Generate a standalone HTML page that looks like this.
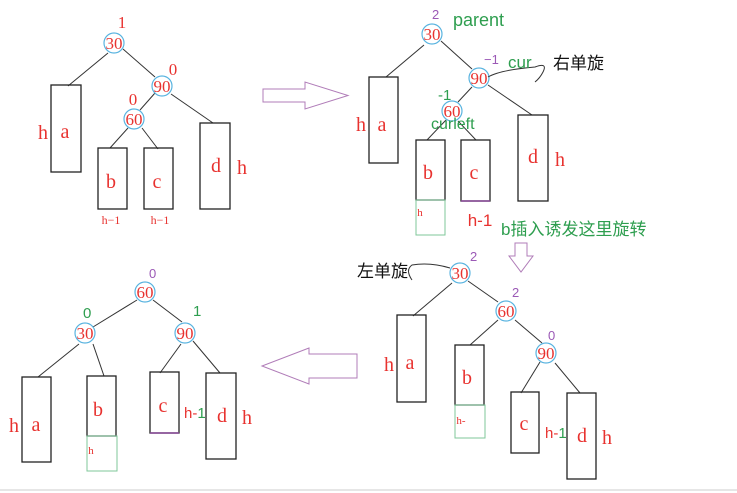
<!DOCTYPE html>
<html><head><meta charset="utf-8"><style>
html,body{margin:0;padding:0;background:#fff}
svg{display:block}
.r{fill:#e8322f;font-family:"Liberation Serif",serif}
.g{fill:#2e9e4f;font-family:"Liberation Sans",sans-serif}
.p{fill:#9b59b6;font-family:"Liberation Sans",sans-serif}
.k{fill:#111;font-family:"Liberation Sans","Noto Sans CJK SC",sans-serif}
line,path.l{stroke:#333;stroke-width:1}
rect.b{fill:none;stroke:#222;stroke-width:1.3}
circle{fill:none;stroke:#5ab4e0;stroke-width:1.2}
</style></head><body>
<svg width="737" height="493" viewBox="0 0 737 493" xmlns="http://www.w3.org/2000/svg">
<!-- Panel 1 -->
<line x1="108" y1="53" x2="68" y2="86"/><line x1="123" y1="49" x2="155" y2="77"/>
<line x1="155" y1="93" x2="140" y2="110"/><line x1="171" y1="94" x2="213" y2="123"/>
<line x1="128" y1="128" x2="110" y2="148"/><line x1="142" y1="128" x2="158" y2="149"/>
<rect class="b" x="51" y="85" width="30" height="87"/><rect class="b" x="98" y="148" width="29" height="61"/>
<rect class="b" x="144" y="148" width="29" height="61"/><rect class="b" x="200" y="123" width="30" height="86"/>
<circle cx="114" cy="43" r="10"/><circle cx="162" cy="86" r="10"/><circle cx="134" cy="119" r="10"/>
<g class="r" font-size="17" text-anchor="middle">
<text x="114" y="49">30</text><text x="162" y="92">90</text><text x="134" y="125">60</text>
<text x="122" y="28">1</text><text x="173" y="75">0</text><text x="133" y="105">0</text>
<text x="43" y="139" font-size="20">h</text><text x="65" y="138" font-size="20">a</text>
<text x="111" y="188" font-size="20">b</text><text x="157" y="188" font-size="20">c</text>
<text x="216" y="172" font-size="20">d</text><text x="242" y="174" font-size="20">h</text>
<text x="111" y="224" font-size="12">h−1</text><text x="160" y="224" font-size="12">h−1</text>
</g>
<path d="M263 89 H305 V82 L348 95.5 L305 109 V102 H263 Z" fill="none" stroke="#b07cb8" stroke-width="1"/>
<!-- Panel 2 -->
<line x1="424" y1="45" x2="386" y2="77"/><line x1="441" y1="41" x2="472" y2="69"/>
<line x1="472" y1="87" x2="458" y2="102"/><line x1="488" y1="85" x2="532" y2="115"/>
<line x1="446" y1="120" x2="427" y2="140"/><line x1="458" y1="121" x2="476" y2="140"/>
<rect class="b" x="369" y="77" width="29" height="86"/><rect class="b" x="416" y="140" width="29" height="60"/>
<rect x="416" y="200" width="29" height="35" fill="none" stroke="#7fc79a"/>
<rect class="b" x="461" y="140" width="29" height="61"/><line x1="461" y1="201" x2="490" y2="201" style="stroke:#8a4a9a;stroke-width:1.5"/>
<rect class="b" x="518" y="115" width="30" height="86"/>
<circle cx="432" cy="34" r="10"/><circle cx="479" cy="78" r="10"/><circle cx="452" cy="111" r="10"/>
<path class="l" d="M488 77 Q500 70 535 67 Q548 62 543 72 Q540 78 535 82" fill="none"/>
<g class="r" font-size="17" text-anchor="middle">
<text x="432" y="40">30</text><text x="479" y="84">90</text><text x="452" y="117">60</text>
<text x="361" y="131" font-size="20">h</text><text x="382" y="131" font-size="20">a</text>
<text x="428" y="179" font-size="20">b</text><text x="474" y="179" font-size="20">c</text>
<text x="533" y="163" font-size="20">d</text><text x="560" y="166" font-size="20">h</text>
<text x="420" y="216" font-size="11">h</text>
</g>
<text x="480" y="226" font-size="17" text-anchor="middle" fill="#e8322f" font-family="Liberation Sans,sans-serif">h-1</text>
<text class="p" x="432" y="19" font-size="13">2</text>
<text class="p" x="484" y="64" font-size="13">−1</text>
<text class="g" x="453" y="26" font-size="18">parent</text>
<text class="g" x="508" y="68" font-size="17">cur</text>
<text class="k" x="553" y="69" font-size="17">右单旋</text>
<text class="g" x="438" y="100" font-size="15">-1</text>
<text class="g" x="431" y="129" font-size="16">curleft</text>
<text class="g" x="501" y="235" font-size="17" font-family="Liberation Sans,'Noto Sans CJK SC',sans-serif">b插入诱发这里旋转</text>
<path d="M515 243 H527 V256 H533 L521 272 L509 256 H515 Z" fill="none" stroke="#b07cb8" stroke-width="1"/>
<!-- Panel 4 -->
<line x1="452" y1="283" x2="413" y2="316"/><line x1="468" y1="281" x2="498" y2="302"/>
<line x1="498" y1="320" x2="470" y2="345"/><line x1="515" y1="320" x2="542" y2="343"/>
<line x1="540" y1="362" x2="521" y2="393"/><line x1="555" y1="363" x2="580" y2="393"/>
<rect class="b" x="397" y="315" width="29" height="87"/><rect class="b" x="455" y="345" width="29" height="60"/>
<rect x="455" y="405" width="30" height="33" fill="none" stroke="#7fc79a"/>
<rect class="b" x="511" y="392" width="28" height="61"/><rect class="b" x="567" y="393" width="29" height="86"/>
<circle cx="460" cy="273" r="10"/><circle cx="506" cy="311" r="10"/><circle cx="546" cy="353" r="10"/>
<path class="l" d="M450 268 Q430 262 412 265 Q405 270 412 280" fill="none"/>
<g class="r" font-size="17" text-anchor="middle">
<text x="460" y="279">30</text><text x="506" y="317">60</text><text x="546" y="359">90</text>
<text x="389" y="371" font-size="20">h</text><text x="410" y="369" font-size="20">a</text>
<text x="467" y="384" font-size="20">b</text><text x="524" y="430" font-size="20">c</text>
<text x="582" y="442" font-size="20">d</text><text x="607" y="444" font-size="20">h</text>
<text x="461" y="424" font-size="11">h-</text>
</g>
<text x="545" y="438" font-size="15" fill="#e8322f" font-family="Liberation Sans,sans-serif">h-<tspan fill="#2e9e4f">1</tspan></text>
<text class="p" x="470" y="261" font-size="13">2</text>
<text class="p" x="512" y="297" font-size="13">2</text>
<text class="p" x="548" y="340" font-size="13">0</text>
<text class="k" x="357" y="277" font-size="17">左单旋</text>
<path d="M357 354 H309 V348 L262 366 L309 384 V378 H357 Z" fill="none" stroke="#b07cb8" stroke-width="1"/>
<!-- Panel 3 -->
<line x1="137" y1="300" x2="93" y2="327"/><line x1="153" y1="300" x2="182" y2="322"/>
<line x1="79" y1="344" x2="38" y2="377"/><line x1="93" y1="344" x2="104" y2="376"/>
<line x1="181" y1="344" x2="160" y2="373"/><line x1="193" y1="341" x2="220" y2="373"/>
<rect class="b" x="22" y="377" width="29" height="85"/><rect class="b" x="87" y="376" width="29" height="60"/>
<rect x="87" y="436" width="30" height="35" fill="none" stroke="#7fc79a"/>
<rect class="b" x="150" y="372" width="29" height="61"/><line x1="150" y1="433" x2="179" y2="433" style="stroke:#8a4a9a;stroke-width:1.5"/>
<rect class="b" x="206" y="373" width="30" height="86"/>
<circle cx="145" cy="292" r="10"/><circle cx="85" cy="333" r="10"/><circle cx="185" cy="333" r="10"/>
<g class="r" font-size="17" text-anchor="middle">
<text x="145" y="298">60</text><text x="85" y="339">30</text><text x="185" y="339">90</text>
<text x="14" y="432" font-size="20">h</text><text x="36" y="431" font-size="20">a</text>
<text x="98" y="416" font-size="20">b</text><text x="163" y="412" font-size="20">c</text>
<text x="222" y="422" font-size="20">d</text><text x="247" y="424" font-size="20">h</text>
<text x="91" y="454" font-size="11">h</text>
</g>
<text x="184" y="418" font-size="15" fill="#e8322f" font-family="Liberation Sans,sans-serif">h-<tspan fill="#2e9e4f">1</tspan></text>
<text class="p" x="149" y="278" font-size="13">0</text>
<text class="g" x="83" y="318" font-size="15">0</text>
<text class="g" x="193" y="316" font-size="15">1</text>
<line x1="0" y1="490" x2="737" y2="490" style="stroke:#e6e6e6;stroke-width:2"/>
</svg>
</body></html>
